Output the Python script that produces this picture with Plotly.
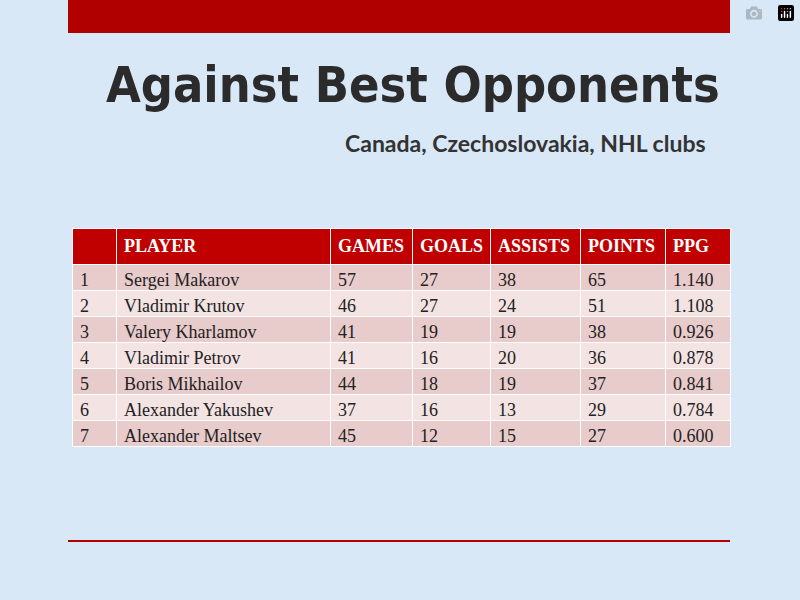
import plotly.graph_objects as go

headers = ["", "<b>PLAYER</b>", "<b>GAMES</b>", "<b>GOALS</b>", "<b>ASSISTS</b>", "<b>POINTS</b>", "<b>PPG</b>"]
ranks = ["1", "2", "3", "4", "5", "6", "7"]
players = ["Sergei Makarov", "Vladimir Krutov", "Valery Kharlamov", "Vladimir Petrov",
           "Boris Mikhailov", "Alexander Yakushev", "Alexander Maltsev"]
games = [57, 46, 41, 41, 44, 37, 45]
goals = [27, 27, 19, 16, 18, 16, 12]
assists = [38, 24, 19, 20, 19, 13, 15]
points = [65, 51, 38, 36, 37, 29, 27]
ppg = ["1.140", "1.108", "0.926", "0.878", "0.841", "0.784", "0.600"]

row_colors = ["#e8cbcb" if i % 2 == 0 else "#f3e3e3" for i in range(len(ranks))]

fig = go.Figure(go.Table(
    domain=dict(x=[72/800, 730/800], y=[0, 1-228/600]),
    columnwidth=[44, 214, 82, 78, 90, 85, 65],
    header=dict(values=headers, fill_color="#c00000", height=24,
                font=dict(family="Liberation Serif", size=18, color="white"),
                line=dict(color="white", width=1), align="left"),
    cells=dict(values=[ranks, players, games, goals, assists, points, ppg],
               fill_color=[row_colors]*7, height=26,
               font=dict(family="Liberation Serif", size=18, color="#222"),
               line=dict(color="white", width=1), align="left"),
))

fig.update_layout(
    width=800, height=600, margin=dict(l=0, r=0, t=0, b=0),
    paper_bgcolor="#d8e8f6", plot_bgcolor="#d8e8f6",
    shapes=[
        dict(type="rect", xref="paper", yref="paper", x0=68/800, x1=730/800,
             y0=1-33/600, y1=1, fillcolor="#b00000", line=dict(width=0)),
        dict(type="line", xref="paper", yref="paper", x0=68/800, x1=730/800,
             y0=1-541/600, y1=1-541/600, line=dict(color="#b00000", width=2)),
    ],
    annotations=[
        dict(text="<b>Against Best Opponents</b>", xref="paper", yref="paper",
             x=722/800, y=1-85/600, xanchor="right", yanchor="middle", showarrow=False,
             font=dict(family="DejaVu Sans Condensed, DejaVu Sans", size=50, color="#2b2b2b")),
        dict(text="<b>Canada, Czechoslovakia, NHL clubs</b>", xref="paper", yref="paper",
             x=708/800, y=1-143/600, xanchor="right", yanchor="middle", showarrow=False,
             font=dict(family="Lato", size=23, color="#333333")),
    ],
)
fig.write_html("out.html", post_script="document.body.style.margin='0';document.body.style.background='#d8e8f6';")
